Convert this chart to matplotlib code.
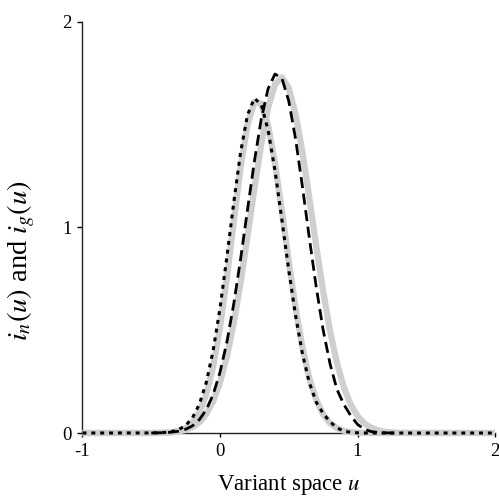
import matplotlib
matplotlib.use("Agg")
import matplotlib.pyplot as plt
import numpy as np

########################################################################################################################
# DATA
########################################################################################################################
nan = np.nan

# variant space u
u = [-1.0, -0.5, -0.45, -0.4, -0.35, -0.3, -0.25, -0.2, -0.15, -0.1, -0.05, 0.0, 0.05, 0.1, 0.15, 0.2,
     0.25, 0.3, 0.35, 0.4, 0.45, 0.5, 0.55, 0.6, 0.65, 0.7, 0.75, 0.8, 0.85, 0.9, 0.95, 1.0, 1.05, 1.1,
     1.15, 1.2, 1.25, 1.3, 1.4, 2.0]

# broad grey curve
grey_wide = [0, 0.0003, 0.0006, 0.0015, 0.0034, 0.0072, 0.0147, 0.028, 0.052, 0.092, 0.154, 0.245, 0.371,
             0.534, 0.732, 0.956, 1.188, 1.405, 1.582, 1.696, 1.730, 1.679, 1.551, 1.365, 1.142, 0.910, 0.690,
             0.498, 0.342, 0.224, 0.139, 0.083, 0.047, 0.025, 0.013, 0.006, 0.003, 0.001, 0.0002, 0]

# black dashed curve
dashed = [nan, 0.0003, 0.0008, 0.0018, 0.0041, 0.0089, 0.018, 0.035, 0.065, 0.113, 0.187, 0.295, 0.442,
          0.628, 0.847, 1.086, 1.321, 1.527, 1.675, 1.746, 1.726, 1.615, 1.429, 1.196, 0.947, 0.709, 0.502,
          0.337, 0.213, 0.14, 0.085, 0.042, 0.018, 0.007, 0.003, 0.001, 0, 0, nan, nan]

# narrow grey curve
grey_narrow = [0, 0.0001, 0.0005, 0.0014, 0.0038, 0.0096, 0.023, 0.050, 0.100, 0.187, 0.322, 0.513, 0.755,
               1.027, 1.291, 1.499, 1.610, 1.602, 1.495, 1.312, 1.081, 0.836, 0.608, 0.415, 0.266, 0.161,
               0.091, 0.048, 0.024, 0.011, 0.005, 0.002, 0.001, 0, 0, 0, 0, 0, 0, 0]

# black dotted curve
dotted = [0, 0.0004, 0.001, 0.0028, 0.0071, 0.0167, 0.0365, 0.074, 0.140, 0.245, 0.400, 0.607, 0.856,
          1.121, 1.366, 1.547, 1.628, 1.598, 1.473, 1.276, 1.038, 0.793, 0.570, 0.384, 0.244, 0.150, 0.095,
          0.055, 0.025, 0.010, 0.003, 0.001, 0, 0, 0, 0, 0, 0, 0, 0]

x_ticks = [-1, 0, 1, 2]
y_ticks = [0, 1, 2]


########################################################################################################################


def main():
    plt.rcParams["font.family"] = ["Liberation Serif", "DejaVu Serif"]
    plt.rcParams["mathtext.fontset"] = "stix"

    fig = plt.figure(figsize=(4.99, 4.96), dpi=100)
    ax = fig.add_axes([0.1653, 0.127, 0.8267, 0.829])

    grey = "#cfcfcf"
    ax.plot(u, grey_wide, color=grey, lw=4.5, solid_capstyle="butt", clip_on=False, zorder=3)
    ax.plot(u, grey_narrow, color=grey, lw=4.5, solid_capstyle="butt", clip_on=False, zorder=3)
    ax.plot(u, dashed, color="black", lw=2.0, dashes=(4, 2), dash_capstyle="butt", clip_on=False, zorder=4)
    ax.plot(u, dotted, color="black", lw=2.2, dashes=(1.3, 1.6), dash_capstyle="butt", clip_on=False,
            zorder=5)

    ax.set_xlim(-1, 2)
    ax.set_ylim(0, 2)
    ax.set_xticks(x_ticks)
    ax.set_xticklabels([str(t) for t in x_ticks])
    ax.set_yticks(y_ticks)
    ax.set_yticklabels([str(t) for t in y_ticks])

    for side in ["top", "right"]:
        ax.spines[side].set_visible(False)
    for side in ["left", "bottom"]:
        ax.spines[side].set_linewidth(1.0)
        ax.spines[side].set_color("#222222")

    ax.tick_params(axis="y", direction="out", length=3.5, width=1.0, pad=4.5, labelsize=13.5)
    ax.tick_params(axis="x", direction="out", length=3.0, width=1.0, pad=4.0, labelsize=13.5)

    ax.set_xlabel(r"Variant space $u$", fontsize=16.5)
    ax.xaxis.set_label_coords(0.5, -0.098)
    ax.set_ylabel(r"$i_n(u)$ and $i_g(u)$", fontsize=20.5)
    ax.yaxis.set_label_coords(-0.11, 0.42)

    fig.savefig("out.png", dpi=100)


if __name__ == "__main__":
    main()
